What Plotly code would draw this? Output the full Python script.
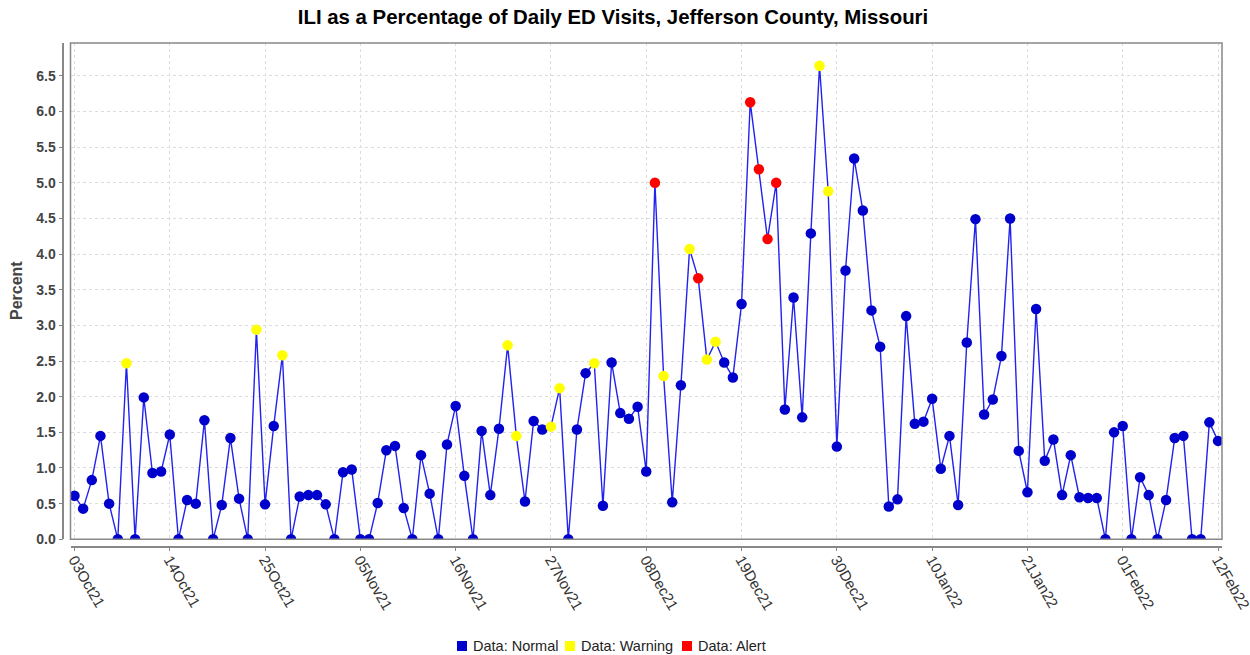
import pandas as pd
import plotly.graph_objects as go

# ---------------- data ----------------
start_date = "2021-10-03"
percent = [
    0.61, 0.43, 0.83, 1.45, 0.50, 0.00, 2.47, 0.00, 1.99, 0.93,
    0.95, 1.47, 0.00, 0.55, 0.50, 1.67, 0.00, 0.48, 1.42, 0.57,
    0.00, 2.94, 0.49, 1.59, 2.58, 0.00, 0.60, 0.62, 0.62, 0.49,
    0.00, 0.94, 0.98, 0.00, 0.00, 0.51, 1.25, 1.31, 0.44, 0.00,
    1.18, 0.64, 0.00, 1.33, 1.87, 0.89, 0.00, 1.52, 0.62, 1.55,
    2.72, 1.45, 0.53, 1.66, 1.54, 1.58, 2.12, 0.00, 1.54, 2.33,
    2.47, 0.47, 2.48, 1.77, 1.69, 1.86, 0.95, 5.00, 2.29, 0.52,
    2.16, 4.07, 3.66, 2.52, 2.77, 2.48, 2.27, 3.30, 6.13, 5.19,
    4.21, 5.00, 1.82, 3.39, 1.71, 4.29, 6.64, 4.88, 1.30, 3.77,
    5.34, 4.61, 3.21, 2.70, 0.46, 0.56, 3.13, 1.62, 1.65, 1.97,
    0.99, 1.45, 0.48, 2.76, 4.49, 1.75, 1.96, 2.57, 4.50, 1.24,
    0.66, 3.23, 1.10, 1.40, 0.62, 1.18, 0.59, 0.58, 0.58, 0.00,
    1.50, 1.59, 0.00, 0.87, 0.62, 0.00, 0.55, 1.42, 1.45, 0.00,
    0.00, 1.64, 1.38,
]
status = [
    "N", "N", "N", "N", "N", "N", "W", "N", "N", "N",
    "N", "N", "N", "N", "N", "N", "N", "N", "N", "N",
    "N", "W", "N", "N", "W", "N", "N", "N", "N", "N",
    "N", "N", "N", "N", "N", "N", "N", "N", "N", "N",
    "N", "N", "N", "N", "N", "N", "N", "N", "N", "N",
    "W", "W", "N", "N", "N", "W", "W", "N", "N", "N",
    "W", "N", "N", "N", "N", "N", "N", "A", "W", "N",
    "N", "W", "A", "W", "W", "N", "N", "N", "A", "A",
    "A", "A", "N", "N", "N", "N", "W", "W", "N", "N",
    "N", "N", "N", "N", "N", "N", "N", "N", "N", "N",
    "N", "N", "N", "N", "N", "N", "N", "N", "N", "N",
    "N", "N", "N", "N", "N", "N", "N", "N", "N", "N",
    "N", "N", "N", "N", "N", "N", "N", "N", "N", "N",
    "N", "N", "N",
]
tick_dates = ["2021-10-03", "2021-10-14", "2021-10-25", "2021-11-05", "2021-11-16",
              "2021-11-27", "2021-12-08", "2021-12-19", "2021-12-30", "2022-01-10",
              "2022-01-21", "2022-02-01", "2022-02-12"]
tick_labels = ["03Oct21", "14Oct21", "25Oct21", "05Nov21", "16Nov21", "27Nov21",
               "08Dec21", "19Dec21", "30Dec21", "10Jan22", "21Jan22", "01Feb22", "12Feb22"]
series_codes = ["N", "W", "A"]
series_names = {"N": "Data: Normal", "W": "Data: Warning", "A": "Data: Alert"}
series_colors = {"N": "#0000cc", "W": "#ffff00", "A": "#ff0000"}

dates = pd.date_range(start_date, periods=len(percent), freq="D")
df = pd.DataFrame({"date": dates, "pct": percent, "status": status})

FONT = "Liberation Sans, Arial, sans-serif"

fig = go.Figure()
fig.add_trace(go.Scatter(x=df["date"], y=df["pct"], mode="lines",
                         line=dict(color="#2222ee", width=1.4),
                         showlegend=False, hoverinfo="skip"))
for code in series_codes:
    sub = df[df["status"] == code]
    fig.add_trace(go.Scatter(x=sub["date"], y=sub["pct"], mode="markers",
                             marker=dict(color=series_colors[code], size=10.5, line=dict(width=0)),
                             name=series_names[code], showlegend=False))

ML, MR, MT, MB = 50, 28, 43, 100
W, H = 1250, 655
pw, ph = W - ML - MR, H - MT - MB
px = lambda x: (x - ML) / pw
py = lambda y: (H - MB - y) / ph

# custom legend (square swatch + label), laid out left to right, centred
legend_sq_left = [457, 565, 682]
legend_y = 646
shapes = [dict(type="rect", xref="x domain", yref="y domain", x0=0, x1=1, y0=0, y1=1,
               line=dict(color="#888888", width=1.5), layer="above")]
annotations = [dict(text="<b>Percent</b>", xref="paper", yref="paper",
                    x=px(16), y=py(291), textangle=-90, showarrow=False,
                    xanchor="center", yanchor="middle",
                    font=dict(size=16, color="#444444", family=FONT))]
for code, left in zip(series_codes, legend_sq_left):
    shapes.append(dict(type="rect", xref="paper", yref="paper",
                       x0=px(left), x1=px(left + 10), y0=py(legend_y - 5), y1=py(legend_y + 5),
                       fillcolor=series_colors[code], line=dict(width=0)))
    annotations.append(dict(text=series_names[code], xref="paper", yref="paper",
                            x=px(left + 14), y=py(legend_y), xanchor="left", yanchor="middle",
                            showarrow=False,
                            font=dict(size=14.5, color="#222222", family=FONT)))

fig.update_layout(
    width=W, height=H,
    margin=dict(l=ML, r=MR, t=MT, b=MB, autoexpand=False),
    paper_bgcolor="white", plot_bgcolor="white",
    font=dict(family=FONT, color="#333333"),
    showlegend=False,
    title=dict(text="<b>ILI as a Percentage of Daily ED Visits, Jefferson County, Missouri</b>",
               x=px(613), xref="paper", xanchor="center",
               y=1 - 17 / H, yref="container", yanchor="middle",
               font=dict(size=20.4, color="#000000", family=FONT)),
    xaxis=dict(
        type="date",
        domain=[px(70.5), 1],
        anchor="free", position=py(546.5),
        range=["2021-10-02 13:00", "2022-02-12 11:00"],
        tickvals=tick_dates, ticktext=tick_labels,
        tickangle=60, tickfont=dict(size=15, color="#333333"),
        ticklabeloverflow="allow", ticklabelstandoff=-6,
        ticks="outside", ticklen=4, tickcolor="#888888",
        showline=True, linecolor="#888888", linewidth=1.5,
        showgrid=True, gridcolor="#dddddd", griddash="3px,3px", gridwidth=1,
        zeroline=False,
    ),
    yaxis=dict(
        domain=[py(539.3), 1],
        anchor="free", position=px(63.3),
        range=[0, 6.96],
        tickvals=[i * 0.5 for i in range(14)], tickformat=".1f",
        tickfont=dict(size=14, color="#444444", weight="bold"),
        ticks="outside", ticklen=4, tickcolor="#888888",
        showline=True, linecolor="#888888", linewidth=1.5,
        showgrid=True, gridcolor="#dddddd", griddash="3px,3px", gridwidth=1,
        zeroline=False,
    ),
    shapes=shapes,
    annotations=annotations,
)

fig.write_html("out.html", config={"displayModeBar": False},
               post_script="document.body.style.margin='0';document.body.style.overflow='hidden';")
